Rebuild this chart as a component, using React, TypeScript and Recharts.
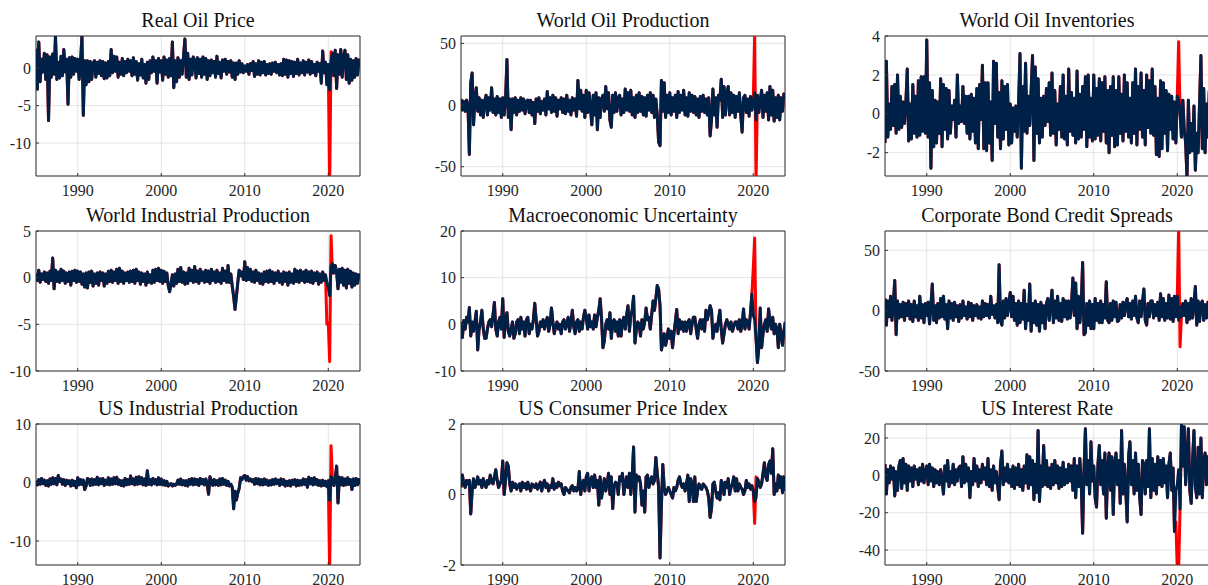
import React from 'react'
import { LineChart, Line, XAxis, YAxis, CartesianGrid, ReferenceArea } from 'recharts'

// bi-monthly observations, Jan 1985 .. Nov 2023 (6 per year)
const START_YEAR = 1985
const PER_YEAR = 6
// the raw (unadjusted) series only differs from the adjusted one around the covid months
const COVID_START = 209 // Nov 2019

const realOilPrice = [
  2.6, -2.8, 3.5, -1.8, 1.2, -0.5,
  2.0, -1.5, 1.8, -7.0, 1.5, -1.2,
  1.9, -0.8, 4.3, -1.5, 0.8, -1.3,
  1.6, -1.0, 2.5, -0.5, 1.2, -4.8,
  1.4, -1.2, 1.5, -0.8, 1.3, -0.4,
  1.2, -1.5, 0.8, 4.3, -6.3, 1.0,
  -2.2, 1.0, -1.8, 0.9, -1.5, 0.6,
  1.0, -1.2, 0.8, -0.7, 1.0, -1.0,
  0.9, -1.4, 0.7, -1.3, 0.9, -1.0,
  2.5, -0.6, 1.6, -0.4, 1.5, -1.2,
  0.8, -0.8, 1.3, -1.0, 0.9, -0.6,
  1.2, -0.4, 1.0, -1.0, 1.4, -0.8,
  0.9, -1.6, 0.6, -0.9, 1.2, -1.3,
  0.5, -2.0, 0.8, -1.5, 1.0, -0.6,
  1.5, -0.4, 1.0, -2.0, 1.3, -0.5,
  1.0, -1.6, 1.5, -0.8, 1.1, -1.2,
  1.3, -1.0, 3.5, -2.6, 1.0, -1.8,
  1.4, -1.2, 1.0, -0.8, 1.6, 3.9,
  -1.2, 2.0, -1.5, 1.2, -0.9, 1.5,
  1.0, -1.3, 1.4, -0.7, 1.2, -1.2,
  1.5, -0.8, 1.3, -1.5, 1.0, -1.0,
  1.1, -0.6, 0.9, -1.2, 1.6, -0.7,
  0.8, -1.3, 1.1, -0.4, 1.2, -0.8,
  0.9, -0.5, 1.0, -1.2, 0.7, -1.5,
  0.7, -0.8, 1.0, -0.5, 0.6, -0.6,
  0.3, -0.4, 0.5, -0.8, 0.6, -0.3,
  0.9, -1.1, 0.6, -0.8, 1.0, -0.9,
  0.8, -0.6, 0.9, -0.9, 0.5, -0.7,
  0.6, -0.8, 0.7, -0.4, 0.8, -0.6,
  0.5, -0.9, 0.6, -1.0, 1.2, -0.8,
  1.1, -1.2, 1.0, -0.7, 0.9, -1.1,
  0.8, -0.7, 1.2, -0.9, 0.7, -0.6,
  1.0, -0.9, 0.8, -0.5, 1.1, -0.8,
  0.9, -0.6, 0.5, -1.0, 0.8, -0.4,
  0.6, -2.0, 2.3, -0.6, 0.8, -2.2,
  0.5, -2.9, 1.0, 2.0, -1.0, 2.4,
  -2.7, 1.8, -0.8, 2.5, -1.2, 1.5,
  2.4, -1.5, 1.8, -2.0, 1.2, -1.6,
  1.0, -1.2, 1.3, -0.9, 1.1, 0.8,
]
const realOilPriceCovid = [-2.2, 0.5, -16, 2.2, 2.0]

const worldOilProduction = [
  5, -4, 3, -5, 4, 0,
  -40, 18, 26, -16, 5, 14,
  -5, 6, -8, 4, -10, 3,
  8, -8, 6, -4, 14, -6,
  5, -8, 7, -6, 5, -10,
  6, -8, 4, 37, -10, 5,
  -20, 5, -6, 6, -8, 4,
  -5, 6, -4, 5, -7, 3,
  4, -6, 4, -8, 2, -15,
  5, -5, 6, -7, 3, -4,
  5, -8, 11, -3, 6, -6,
  8, -5, 6, -9, 4, -3,
  6, -6, 5, -7, 8, -5,
  4, -8, 6, -4, 5, -9,
  20, -3, 12, -5, 8, -10,
  12, -6, 10, -2, -16, 8,
  -8, 10, -20, 6, -10, 5,
  8, -5, 15, -3, 10, -12,
  -18, 8, -6, 10, -5, 6,
  8, -8, 5, -6, 13, -4,
  10, -5, 12, -8, 6, -10,
  8, -6, 10, -5, 7, -8,
  6, -9, 8, -4, 10, -6,
  8, -10, 5, -8, -30, -33,
  20, -5, 18, -10, 8, -6,
  10, -8, 6, -5, 8, -10,
  11, -6, 8, -4, 12, -8,
  6, -9, 10, -5, 8, -6,
  7, -8, 5, -10, 7, -5,
  8, -6, 5, -8, 6, -25,
  -12, 13, -8, 6, -18, 8,
  4, 21, -10, 15, -8, 10,
  15, -8, 10, -6, 8, -10,
  7, -5, 10, -8, -22, 6,
  8, -6, 5, -9, 7, -4,
  3, 10, -12, 8, -6, 4,
  12, -10, 8, -5, 10, -12,
  15, -8, 12, -13, 6, -10,
  8, -12, 6, -5, 9, 5,
]
const worldOilProductionCovid = [-4, 3, 58, -62, 8]

const worldOilInventories = [
  -1.5, 2.7, -1.2, 0.5, -0.8, 1.4,
  -0.6, 1.5, -1.0, 2.0, -0.8, 0.9,
  -0.7, 0.6, -0.5, 0.6, 2.3, -1.4,
  0.5, -1.3, 1.5, -1.0, 0.9, -1.2,
  1.7, -1.1, 1.9, -0.9, 1.9, -1.0,
  3.8, -1.2, 1.6, -2.8, 1.2, -1.7,
  0.7, -1.5, 0.6, -1.0, 1.8, -1.7,
  1.5, -0.8, 1.3, -1.3, 1.2, -1.0,
  0.4, -0.3, 0.7, -1.2, 2.0, -0.5,
  0.4, -0.4, 1.4, -0.5, 0.9, -1.0,
  0.9, -1.3, 1.0, -0.9, 0.8, -1.5,
  1.3, -1.8, 1.5, -0.3, 2.5, -1.8,
  1.6, -1.9, 1.6, -1.5, 0.6, -2.4,
  2.7, -0.5, 2.6, -1.2, 1.1, -1.8,
  1.7, -1.3, 1.4, -0.8, 1.5, -1.6,
  0.5, -1.5, 0.3, -0.9, 0.4, -1.2,
  0.6, 3.1, -2.8, 1.4, -0.9, 2.6,
  -1.0, 0.9, -0.6, 1.2, 3.0, -2.4,
  2.4, -1.0, 1.8, -1.5, 0.8, -1.2,
  0.9, -0.6, 1.3, -0.4, 1.6, -1.1,
  2.1, -1.0, 1.2, -1.6, 0.5, -0.8,
  1.4, -1.2, 2.0, -1.3, 0.9, -1.6,
  2.3, -0.9, 1.1, -1.1, 0.8, -1.5,
  2.2, -1.3, 1.0, -1.2, 1.4, -0.8,
  1.9, -1.7, 2.0, -1.2, 0.8, -1.4,
  2.0, -1.3, 1.3, -1.1, 1.8, -1.4,
  1.6, -0.9, 1.9, -1.5, 1.2, -2.0,
  1.4, -1.1, 1.9, -1.7, 1.2, -1.6,
  1.9, -1.0, 1.0, -1.4, 2.0, -0.9,
  1.6, -1.2, 0.8, -1.5, 1.6, -1.0,
  2.3, -1.6, 1.4, -0.8, 2.1, -1.2,
  1.2, -1.6, 2.0, -0.7, 1.7, -1.0,
  2.3, -1.1, 1.4, -2.1, 0.8, -2.2,
  1.7, -1.8, 1.6, -1.0, 1.2, -1.9,
  1.0, -0.8, 0.9, -1.3, 0.6, -1.5,
  0.9, 0.7, 0.1, -1.2, 0.7, -0.8,
  -1.5, -3.3, 0.7, -2.0, -0.5, -1.9,
  0.4, -2.9, -1.0, -2.0, 0.5, 3.0,
  -1.8, 1.3, -2.0, 0.5, -1.2, 1.2,
]
const worldOilInventoriesCovid = [-1.5, 0.9, 3.7, 0.1, -1.2]

const worldIndustrialProduction = [
  0.5, -0.3, 0.8, -0.5, 0.4, -0.2,
  0.6, -0.4, 0.5, -0.6, 0.7, -0.3,
  2.1, -1.2, 0.8, -0.4, 0.6, -0.5,
  0.9, -0.3, 0.7, -0.6, 0.5, -0.4,
  0.6, -0.8, 0.7, -0.3, 0.8, -0.5,
  0.7, -0.4, 0.6, -0.7, 0.4, -1.0,
  0.5, -1.1, 0.6, -0.5, 0.7, -0.9,
  0.4, -0.6, 0.5, -0.8, 0.6, -0.3,
  0.5, -0.9, 0.4, -0.6, 0.7, -0.4,
  0.8, -0.5, 0.6, -0.3, 0.9, -0.6,
  1.0, -0.4, 0.7, -0.6, 0.5, -0.3,
  0.6, -0.5, 0.7, -0.4, 0.8, -0.6,
  0.9, -0.3, 0.6, -0.7, 0.5, -0.4,
  0.4, -0.8, 0.6, -0.5, 0.3, -0.6,
  0.8, -0.5, 0.9, -0.3, 1.0, -0.4,
  0.8, -0.6, 0.7, -0.4, 0.5, -0.8,
  -1.5, -0.7, 0.3, -0.9, 0.4, -0.6,
  0.9, -0.4, 1.1, -0.5, 0.6, -0.7,
  0.5, -0.6, 1.0, -0.3, 0.8, -0.5,
  1.2, -0.4, 0.7, -0.6, 0.9, -0.3,
  0.6, -0.5, 0.8, -0.4, 0.7, -0.6,
  0.9, -0.3, 0.6, -0.5, 0.8, -0.4,
  0.5, -0.6, 1.0, -0.3, 0.7, -0.5,
  1.3, -0.5, 0.4, -0.9, -2.0, -3.4,
  -2.0, -0.5, 0.8, 0.2, 0.6, -0.2,
  1.7, -0.3, 1.1, -0.2, 0.9, -0.4,
  0.6, -0.5, 0.8, -0.3, 0.5, -0.6,
  0.4, -0.7, 0.6, -0.4, 0.7, -0.5,
  0.8, -0.4, 0.6, -0.6, 0.5, -0.3,
  0.7, -0.5, 0.4, -0.7, 0.6, -0.4,
  0.5, -0.8, 0.6, -0.5, 0.4, -0.6,
  0.9, -0.4, 0.7, -0.5, 0.8, -0.3,
  0.6, -0.5, 0.8, -0.4, 0.6, -0.5,
  0.7, -0.6, 0.5, -0.3, 0.6, -0.7,
  0.4, -0.5, 0.6, -0.3, 0.3, -0.5,
  -1.0, -1.9, 1.2, 1.5, 0.5, 1.3,
  0.6, -1.2, 0.9, -0.5, 1.0, -0.8,
  0.8, -1.1, 0.9, -0.6, 0.7, -1.0,
  0.5, -0.8, 0.4, -0.6, 0.3, 0.1,
]
const worldIndustrialProductionCovid = [-5.0, -4.8, -9.0, 4.5, 0.5]

const macroUncertainty = [
  0.5, -2.8, 0.8, -1.0, 1.5, 0.5,
  3.6, -2.5, 0.5, -1.5, 0.5, 2.8,
  -5.5, -1.0, 0.5, 3.0, -1.0, -3.0,
  -3.0, -1.0, 0.5, 1.0, -0.5, 2.0,
  4.7, -1.0, -2.5, 0.5, 1.5, -1.0,
  5.5, -2.8, 1.0, 2.5, -1.5, -2.5,
  -1.0, 0.5, -3.0, -2.0, 0.5, 1.0,
  -2.0, 1.5, -1.0, 0.5, -2.5, 1.0,
  1.5, -2.0, 0.0, -1.0, 1.0, 4.5,
  1.0, -2.5, -1.5, 0.5, -0.5, 1.0,
  -1.0, 0.5, 1.5, -1.5, 0.0, 3.5,
  0.5, -2.0, -0.5, 0.5, -1.0, 0.0,
  -2.0, 0.5, 1.0, -1.0, 0.0, 1.5,
  -1.5, 0.5, 3.0, -0.5, -2.0, 0.5,
  1.0, -1.5, 0.5, -1.0, 1.5, 3.0,
  1.5, -1.0, 2.0, -0.5, 0.5, -1.0,
  2.0, -0.5, 1.5, 3.0, 5.5, 1.0,
  -5.0, -3.5, 0.0, 1.0, -1.0, 2.5,
  -3.0, 0.5, 1.0, -1.5, 0.5, -2.5,
  1.0, -2.5, 0.5, 1.5, -1.0, 2.0,
  4.0, -1.5, 2.0, 3.0, 6.0, -4.0,
  -1.0, 0.5, 0.0, -2.5, 1.0, -1.0,
  0.5, 3.5, 1.0, 1.5, -1.0, 2.0,
  5.0, 3.0, 5.5, 8.3, 7.5, 4.0,
  -5.5, -4.0, -2.0, -4.5, -3.0, -1.0,
  -3.0, -1.5, -5.0, -2.0, 0.5, 3.2,
  -2.0, 1.0, -1.0, 0.5, -1.5, 0.5,
  -1.5, 0.5, 1.0, -2.0, 0.0, 1.5,
  1.5, -1.0, -3.0, 0.0, 1.0, -1.0,
  1.0, -1.5, 3.0, 1.0, 2.5, 4.0,
  3.0, -3.0, -1.0, 0.0, -1.5, 1.0,
  3.0, -1.0, -4.0, -2.0, 0.0, 1.0,
  0.0, -1.0, 0.5, -1.5, -0.5, 0.5,
  0.5, -1.0, 1.0, -1.5, 0.0, 3.3,
  -1.0, 1.0, 0.5, -1.0, 2.5, 6.5,
  2.0, 1.0, -3.0, -8.2, -5.0, 3.5,
  -5.0, -2.0, 0.0, 1.0, -1.5, 3.3,
  0.5, -1.0, 1.5, -2.0, 0.0, -1.0,
  -5.0, 0.0, -2.0, -4.5, -1.5, 0.5,
]
const macroUncertaintyCovid = [6.5, 12.0, 18.5, -3.0, -8.2]

const creditSpreads = [
  10, -12, 8, -5, 12, -8,
  6, 25, -20, 8, -6, 5,
  -5, 7, -8, 6, -4, 8,
  -7, 5, -9, 8, -5, 4,
  -8, 12, -6, 5, -10, 6,
  -4, 7, -11, 5, 22, -8,
  4, -10, 6, -6, 10, -5,
  12, -7, 5, -15, 8, -6,
  6, -8, 7, -5, 4, -9,
  5, -6, 8, -4, 3, -7,
  7, -5, 6, -8, 4, -4,
  5, -6, 3, -7, 8, -5,
  6, -4, 5, -6, 12, -3,
  4, -6, 5, -10, 38, -8,
  -12, 8, -6, 10, -4, 6,
  15, -5, 12, -8, 6, -12,
  8, -10, 6, -7, 17, -15,
  5, -8, 22, -17, 6, -10,
  8, -12, 5, -17, 7, -10,
  4, -15, 6, 10, -8, 5,
  17, -10, 8, -6, 12, -8,
  6, -9, 10, -5, 8, -7,
  8, -6, 5, 27, -4, 23,
  -15, 12, -10, 5, 40, -20,
  -18, 6, -12, 8, -15, 5,
  -15, 10, -8, 6, -10, 8,
  -10, 5, -6, 24, -8, -10,
  6, -8, 8, -5, 7, -9,
  -8, 5, -6, 7, -4, 6,
  10, -5, 6, -7, 8, -4,
  12, -6, -10, 8, -5, 7,
  18, -8, -12, 6, -5, 8,
  8, -6, 5, -4, 7, -8,
  14, -5, 10, -8, 6, -6,
  13, -7, 10, -9, 12, -5,
  12, -8, 3, -5, 6, -4,
  8, -10, 6, -7, 10, -6,
  5, 20, -12, 8, -9, 6,
  8, -8, 5, -6, 7, -3,
]
const creditSpreadsCovid = [-5, 12, 70, -30, -5]

const usIndustrialProduction = [
  0.3, -0.4, 0.5, -0.3, 0.7, -0.2,
  0.4, -0.5, 0.3, -0.6, 0.6, -0.3,
  0.8, -0.2, 0.7, -0.4, 1.2, 0.2,
  0.6, -0.3, 0.5, -0.5, 0.4, -0.2,
  0.3, -0.6, 0.4, -0.5, 0.2, -0.9,
  0.8, -0.4, 0.5, -0.3, 0.4, -1.2,
  -0.6, 0.7, 0.5, -0.5, 0.6, -0.4,
  0.5, -0.3, 0.9, -0.4, 0.6, -0.2,
  0.7, -0.5, 0.4, -0.3, 0.8, -0.4,
  0.6, -0.3, 0.8, -0.2, 0.9, -0.3,
  0.4, -0.5, 0.3, -0.6, 0.7, -0.4,
  0.5, -0.3, 1.1, -0.2, 0.6, -0.4,
  0.9, -0.3, 1.0, -0.2, 0.8, -0.4,
  0.6, -0.5, 2.0, -0.3, 0.5, -0.4,
  0.7, -0.2, 0.5, -0.4, 0.8, -0.3,
  0.6, -0.4, 0.3, -0.5, 0.2, -0.6,
  -0.4, -0.2, -0.6, -0.3, -0.5, -0.3,
  0.4, -0.3, 0.6, -0.4, 0.3, -0.5,
  0.3, -0.6, 0.5, -0.3, 0.7, -0.4,
  0.6, -0.3, 0.5, -0.5, 0.7, -0.2,
  0.5, -0.4, 0.6, -0.3, -2.0, 1.0,
  0.3, -0.5, 0.5, -0.4, 0.3, -0.5,
  0.6, -0.4, 0.7, -0.3, 0.4, -0.5,
  0.2, -0.6, -0.3, -0.8, -4.5, -1.5,
  -3.0, -1.8, -1.0, 0.8, 0.5, 1.0,
  1.2, 0.4, 1.0, 0.3, 0.6, 0.2,
  0.5, -0.3, 0.7, -0.2, 0.6, -0.4,
  0.5, -0.4, 0.6, -0.3, 0.4, -0.5,
  0.3, -0.4, 0.5, -0.3, 0.6, -0.2,
  0.4, -0.5, 0.6, -0.3, 0.5, -0.6,
  0.2, -0.5, 0.3, -0.6, 0.4, -0.3,
  0.5, -0.6, 0.4, -0.5, 0.3, -0.4,
  0.6, -0.3, 0.5, -0.8, 0.9, -0.2,
  0.7, -0.4, 0.8, -0.3, 0.5, -0.5,
  0.3, -0.6, 0.4, -0.5, 0.2, -0.7,
  0.3, -3.0, 1.0, 0.6, -0.5, 0.7,
  2.8, -3.5, 0.9, -0.4, 0.8, -0.5,
  0.6, -0.4, 0.8, -0.3, 0.5, -1.2,
  0.6, -0.5, 0.7, -0.4, 0.5, -0.3,
]
const usIndustrialProductionCovid = [-0.7, 0.3, -15.0, 6.3, 0.6]

const usCpi = [
  0.2, 0.55, 0.3, 0.2, 0.4, 0.3,
  0.4, -0.55, 0.1, 0.45, 0.2, 0.3,
  0.5, 0.3, 0.4, 0.2, 0.45, 0.3,
  0.2, 0.4, 0.3, 0.55, 0.35, 0.3,
  0.5, 0.7, 0.4, 0.2, 0.3, 0.4,
  0.95, 0.0, 0.4, 0.9, 0.8, 0.3,
  0.1, 0.35, 0.2, 0.3, 0.15, 0.25,
  0.3, 0.1, 0.35, 0.2, 0.3, 0.15,
  0.35, 0.2, 0.1, 0.3, 0.25, 0.2,
  0.3, 0.15, 0.25, 0.35, 0.1, 0.3,
  0.4, 0.2, 0.3, 0.1, 0.25, 0.2,
  0.45, 0.15, 0.3, 0.2, 0.35, 0.25,
  0.3, 0.1, 0.0, 0.2, 0.15, 0.1,
  0.05, 0.2, 0.25, 0.1, 0.2, 0.1,
  0.15, 0.65, 0.0, 0.3, 0.4, 0.1,
  0.5, 0.6, 0.1, 0.4, 0.5, 0.2,
  0.55, 0.2, 0.4, -0.3, 0.5, -0.1,
  0.2, 0.45, 0.1, 0.3, 0.6, 0.0,
  0.5, -0.4, 0.2, 0.35, 0.3, 0.0,
  0.5, 0.4, 0.6, 0.0, 0.3, 0.5,
  0.2, 0.6, 0.0, 0.5, 1.35, -0.5,
  0.55, 0.4, 0.5, 0.3, -0.3, 0.1,
  -0.5, 0.5, 0.55, 0.2, 0.4, 0.5,
  0.3, 0.4, 1.05, 0.6, 0.2, -1.8,
  -0.3, 0.85, 0.2, 0.0, 0.1, 0.2,
  0.1, 0.0, -0.1, 0.2, 0.1, 0.2,
  0.4, 0.5, 0.3, 0.2, 0.3, 0.1,
  0.3, 0.55, -0.2, 0.45, 0.3, -0.2,
  0.5, -0.2, 0.1, 0.3, 0.2, 0.15,
  0.3, 0.25, 0.2, 0.1, -0.1, -0.65,
  -0.4, 0.3, 0.35, 0.1, -0.1, 0.05,
  -0.15, 0.4, 0.3, 0.0, 0.35, 0.2,
  0.45, 0.0, 0.2, 0.3, 0.5, 0.1,
  0.45, 0.1, 0.3, 0.2, 0.15, 0.0,
  0.1, 0.4, 0.2, 0.3, 0.15, 0.25,
  0.1, -0.2, -0.1, 0.45, 0.35, 0.2,
  0.3, 0.6, 0.9, 0.5, 0.4, 0.85,
  0.95, 0.6, 1.3, 0.0, 0.3, 0.1,
  0.55, 0.2, 0.5, 0.05, 0.5, 0.1,
]
const usCpiCovid = [0.25, 0.1, -0.82, 0.5, 0.45]

const usInterestRate = [
  6, -10, 3, -4, 5, -2,
  4, -11, 2, -8, 5, 8,
  -7, 9, -4, 6, -8, 5,
  -3, 4, -6, 5, -2, 3,
  -5, 4, -3, 6, -4, 2,
  5, -5, 6, -3, 4, -6,
  3, -4, 2, -5, 3, -2,
  -10, 5, -3, 8, -6, 2,
  -4, 6, -5, 3, -3, 4,
  5, -6, 10, -4, 6, -3,
  4, -12, 2, -5, 9, -3,
  5, -6, 3, -4, 6, -2,
  4, -5, 9, -6, 3, -8,
  5, -4, 2, -6, -13, 6,
  13, -5, 4, -3, 6, -4,
  3, -6, 5, -7, 4, -5,
  6, -6, 3, -8, 5, -4,
  11, -7, 10, -5, 8, -13,
  6, -9, 24, -14, 5, -6,
  16, -5, 8, -6, 4, -7,
  6, -5, 8, -4, 5, -7,
  4, -6, 7, -5, 3, -4,
  6, -3, 5, -8, 9, -12,
  5, -6, 9, -4, -31, 3,
  25, -5, 8, -10, 18, -3,
  5, -12, -17, 6, 16, -5,
  8, -10, 12, -23, 4, 12,
  -8, 10, -21, 6, 12, -5,
  8, -15, 24, -10, 6, -8,
  -25, 10, 18, -5, 8, -10,
  12, -8, 6, -12, -21, 8,
  6, -10, 8, -6, 25, -12,
  9, -8, 6, -10, 10, -5,
  8, -6, 9, -4, 5, -12,
  6, 12, -8, 4, -30, -8,
  -5, 3, -18, 27, 5, 26,
  -5, 10, 25, -8, -15, 8,
  24, -6, -12, 15, -10, 20,
  -12, 8, 12, -5, 10, 6,
]
const usInterestRateCovid = [-25, -50, -50, -18, 27]

const xTicks = [1990, 2000, 2010, 2020]
const X_DOMAIN = [1985, 2023.8]

const FONT = '"Liberation Serif", "Times New Roman", serif'
const NAVY = '#002147'
const RED = '#ff0000'
const AXIS = '#333333'

const PLOT_W = 324
const Y_AXIS_W = 50
const X_AXIS_H = 30
const PAD_TOP = 12
const PAD_RIGHT = 3

function buildRows(adj: number[], covid: number[]) {
  return adj.map((v, i) => {
    const inCovid = i >= COVID_START && i < COVID_START + covid.length
    return {
      t: START_YEAR + i / PER_YEAR,
      adj: v,
      raw: inCovid ? covid[i - COVID_START] : v,
    }
  })
}

const panels = [
  { title: 'Real Oil Price', adj: realOilPrice, covid: realOilPriceCovid, yDomain: [-14.4, 4.3], yTicks: [-10, -5, 0], left: 36, top: 36, h: 140 },
  { title: 'World Oil Production', adj: worldOilProduction, covid: worldOilProductionCovid, yDomain: [-57.5, 56], yTicks: [-50, 0, 50], left: 461, top: 36, h: 140 },
  { title: 'World Oil Inventories', adj: worldOilInventories, covid: worldOilInventoriesCovid, yDomain: [-3.2, 4], yTicks: [-2, 0, 2, 4], left: 885, top: 36, h: 140 },
  { title: 'World Industrial Production', adj: worldIndustrialProduction, covid: worldIndustrialProductionCovid, yDomain: [-10, 5], yTicks: [-10, -5, 0, 5], left: 36, top: 231, h: 140 },
  { title: 'Macroeconomic Uncertainty', adj: macroUncertainty, covid: macroUncertaintyCovid, yDomain: [-10, 20], yTicks: [-10, 0, 10, 20], left: 461, top: 231, h: 140 },
  { title: 'Corporate Bond Credit Spreads', adj: creditSpreads, covid: creditSpreadsCovid, yDomain: [-50, 66], yTicks: [-50, 0, 50], left: 885, top: 231, h: 140 },
  { title: 'US Industrial Production', adj: usIndustrialProduction, covid: usIndustrialProductionCovid, yDomain: [-14.1, 10], yTicks: [-10, 0, 10], left: 36, top: 424, h: 141 },
  { title: 'US Consumer Price Index', adj: usCpi, covid: usCpiCovid, yDomain: [-2, 2], yTicks: [-2, 0, 2], left: 461, top: 424, h: 141 },
  { title: 'US Interest Rate', adj: usInterestRate, covid: usInterestRateCovid, yDomain: [-48, 27.5], yTicks: [-40, -20, 0, 20], left: 885, top: 424, h: 141 },
]

type PanelProps = (typeof panels)[number]

function Panel({ title, adj, covid, yDomain, yTicks, left, top, h }: PanelProps) {
  const rows = buildRows(adj, covid)
  const tickStyle = { fill: '#262626', fontSize: 16, fontFamily: FONT }
  return (
    <>
      <div
        style={{
          position: 'absolute',
          left,
          top: top - 26,
          width: PLOT_W,
          textAlign: 'center',
          fontFamily: FONT,
          fontSize: 20,
          lineHeight: '20px',
          color: '#111',
          whiteSpace: 'nowrap',
        }}
      >
        {title}
      </div>
      <div style={{ position: 'absolute', left: left - Y_AXIS_W, top: top - PAD_TOP }}>
        <LineChart
          width={Y_AXIS_W + PLOT_W + PAD_RIGHT}
          height={PAD_TOP + h + X_AXIS_H}
          data={rows}
          margin={{ top: PAD_TOP, right: PAD_RIGHT, bottom: 0, left: 0 }}
        >
          <CartesianGrid stroke="#e4e4e4" strokeWidth={1} />
          <XAxis
            type="number"
            dataKey="t"
            domain={X_DOMAIN}
            ticks={xTicks}
            interval={0}
            allowDataOverflow
            height={X_AXIS_H}
            axisLine={false}
            tickLine={{ stroke: AXIS }}
            tickSize={-3}
            tickMargin={12}
            tick={tickStyle}
          />
          <YAxis
            type="number"
            domain={yDomain}
            ticks={yTicks}
            interval={0}
            allowDataOverflow
            width={Y_AXIS_W}
            axisLine={false}
            tickLine={{ stroke: AXIS }}
            tickSize={-3}
            tickMargin={8}
            tick={tickStyle}
          />
          <Line
            type="linear"
            dataKey="raw"
            stroke={RED}
            strokeWidth={3}
            strokeLinejoin="round"
            dot={false}
            isAnimationActive={false}
          />
          <Line
            type="linear"
            dataKey="adj"
            stroke={NAVY}
            strokeWidth={3}
            strokeLinejoin="round"
            dot={false}
            isAnimationActive={false}
          />
          <ReferenceArea
            x1={X_DOMAIN[0]}
            x2={X_DOMAIN[1]}
            y1={yDomain[0]}
            y2={yDomain[1]}
            fill="none"
            fillOpacity={0}
            stroke={AXIS}
            strokeWidth={1}
          />
        </LineChart>
      </div>
    </>
  )
}

export default function App() {
  return (
    <div
      style={{
        position: 'absolute',
        left: 0,
        top: 0,
        width: 1208,
        height: 585,
        overflow: 'hidden',
        background: '#fff',
      }}
    >
      {panels.map(p => (
        <Panel key={p.title} {...p} />
      ))}
    </div>
  )
}
